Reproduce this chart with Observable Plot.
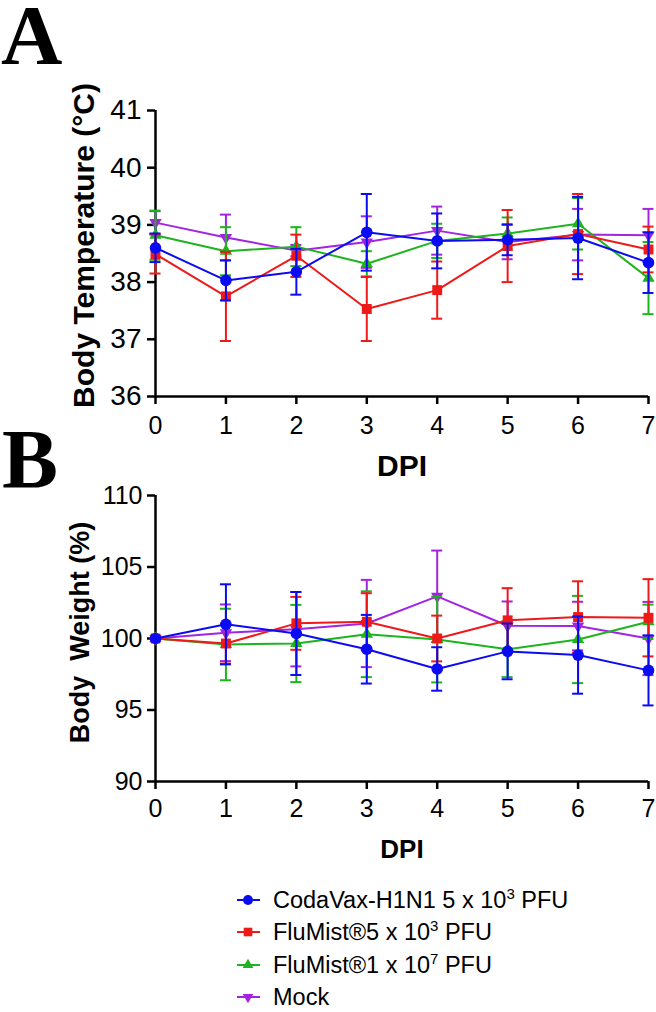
<!DOCTYPE html>
<html><head><meta charset="utf-8">
<script src="https://cdn.jsdelivr.net/npm/d3@7"></script>
<script src="https://cdn.jsdelivr.net/npm/@observablehq/plot@0.6"></script>
<style>
body{margin:0;background:#fff;}
#wrap{position:relative;width:656px;height:1012px;overflow:hidden;font-family:"Liberation Sans",Arial,sans-serif;background:#fff;}
#pa,#pb{position:absolute;left:0;}
#pa{top:0}
#pb{top:420px}
.letter{position:absolute;left:1px;font-family:"Liberation Serif","Times New Roman",serif;font-weight:bold;height:66px;line-height:66px;overflow:visible;}
#la{top:2px;font-size:85px;}
#lb{top:427px;font-size:84px;left:2px;}
#legend{position:absolute;left:0;top:884px;width:656px;}
.row{position:relative;height:32.3px;line-height:32.3px;font-size:23.5px;color:#000;white-space:nowrap;}
.row svg{position:absolute;left:230px;top:0;}
.row span{position:absolute;left:273px;top:0;}
sup{font-size:15px;vertical-align:9px;line-height:0;}
</style></head>
<body><div id="wrap"><div id="pa"></div><div id="pb"></div><div class="letter" id="la">A</div><div class="letter" id="lb">B</div><div id="legend"></div></div>
<script>
// ---------- data ----------
const days = [0, 1, 2, 3, 4, 5, 6, 7];
const seriesKeys = ["coda", "flu5", "flu7", "mock"];
const seriesLabels = [
  ["CodaVax-H1N1 5 x 10", "3", " PFU"],
  ["FluMist®5 x 10", "3", " PFU"],
  ["FluMist®1 x 10", "7", " PFU"],
  ["Mock", "", ""]
];
const seriesColors = ["#0b0bf2", "#ee1a1a", "#1db41d", "#a324e0"];
const seriesSymbols = ["circle", "square", "triangle", "triangle"];
const seriesRotate = [0, 0, 0, 180];
const seriesR = [5.8, 5.6, 4.6, 4.6];

// Panel A: body temperature (°C), mean and SD
const tempCoda   = [38.60, 38.03, 38.18, 38.87, 38.72, 38.74, 38.77, 38.34];
const tempCodaSD = [0.25, 0.35, 0.40, 0.67, 0.48, 0.27, 0.72, 0.53];
const tempFlu5   = [38.49, 37.75, 38.46, 37.53, 37.86, 38.63, 38.84, 38.57];
const tempFlu5SD = [0.34, 0.78, 0.37, 0.56, 0.50, 0.63, 0.70, 0.40];
const tempFlu7   = [38.82, 38.54, 38.62, 38.32, 38.72, 38.85, 39.02, 38.07];
const tempFlu7SD = [0.43, 0.42, 0.34, 0.22, 0.30, 0.28, 0.45, 0.63];
const tempMock   = [39.04, 38.78, 38.55, 38.70, 38.90, 38.70, 38.83, 38.82];
const tempMockSD = [0.20, 0.40, 0.10, 0.45, 0.42, 0.30, 0.45, 0.46];
const tempTicks  = [36, 37, 38, 39, 40, 41];

// Panel B: body weight (%), mean and SD
const wCoda   = [100, 100.99, 100.35, 99.25, 97.87, 99.10, 98.84, 97.77];
const wCodaSD = [0, 2.80, 2.90, 2.40, 1.52, 1.95, 2.70, 2.45];
const wFlu5   = [100, 99.65, 101.06, 101.17, 100.00, 101.27, 101.50, 101.45];
const wFlu5SD = [0, 1.40, 1.85, 2.00, 1.60, 2.25, 2.50, 2.70];
const wFlu7   = [100, 99.58, 99.65, 100.30, 99.93, 99.25, 99.93, 101.17];
const wFlu7SD = [0, 2.50, 2.70, 3.00, 3.00, 1.95, 3.05, 1.20];
const wMock   = [100, 100.40, 100.65, 101.05, 102.95, 100.89, 100.87, 100.00];
const wMockSD = [0, 1.98, 2.60, 3.05, 3.20, 1.70, 1.70, 2.56];
const weightTicks = [90, 95, 100, 105, 110];

// ---------- build ----------
function tidy(means, sds) {
  const out = [];
  means.forEach((m, s) => {
    days.forEach((d, i) => {
      out.push({s, day: d, mean: m[i], lo: m[i] - sds[s][i], hi: m[i] + sds[s][i]});
    });
  });
  return out;
}
const tempData = tidy([tempCoda, tempFlu5, tempFlu7, tempMock], [tempCodaSD, tempFlu5SD, tempFlu7SD, tempMockSD]);
const weightData = tidy([wCoda, wFlu5, wFlu7, wMock], [wCodaSD, wFlu5SD, wFlu7SD, wMockSD]);

const drawOrder = [3, 2, 1, 0];
const FONT = "Liberation Sans, Arial, sans-serif";

function panel(o) {
  const marks = [];
  for (const s of drawOrder) {
    const d = o.data.filter(r => r.s === s);
    const c = seriesColors[s];
    marks.push(Plot.ruleX(d, {x: "day", y1: "lo", y2: "hi", stroke: c, strokeWidth: 2}));
    marks.push(Plot.ruleY(d, {y: "hi", x1: "day", x2: "day", insetLeft: -5.5, insetRight: -5.5, stroke: c, strokeWidth: 2}));
    marks.push(Plot.ruleY(d, {y: "lo", x1: "day", x2: "day", insetLeft: -5.5, insetRight: -5.5, stroke: c, strokeWidth: 2}));
    marks.push(Plot.line(d, {x: "day", y: "mean", stroke: c, strokeWidth: 2}));
    marks.push(Plot.dot(d, {x: "day", y: "mean", symbol: seriesSymbols[s], r: seriesR[s], fill: c, stroke: "none", rotate: seriesRotate[s]}));
  }
  return Plot.plot({
    width: 656,
    height: o.height,
    marginTop: o.marginTop,
    marginBottom: o.marginBottom,
    marginLeft: 155,
    marginRight: 8,
    style: {background: "transparent", fontFamily: FONT, color: "black", overflow: "visible"},
    x: {domain: [0, 7]},
    y: {domain: o.domain},
    marks: [
      Plot.axisY({ticks: o.ticks, tickSize: 8, tickPadding: o.yPad, fontSize: o.yFont, strokeWidth: 2.5, label: null, tickFormat: d => d}),
      Plot.axisX({ticks: days, tickSize: 8, tickPadding: o.xPad, fontSize: o.xFont, strokeWidth: 2.5, label: null, tickFormat: d => d}),
      Plot.ruleX([0], {y1: o.domain[0], y2: o.domain[1], strokeWidth: 2.5}),
      Plot.ruleY([o.domain[0]], {x1: 0, x2: 7, strokeWidth: 2.5}),
      ...marks,
      Plot.text([o.yLabel], {text: d => d, frameAnchor: "left", rotate: -90, dx: o.yLabelDx, dy: o.yLabelDy, fontSize: o.yLabelSize, fontWeight: "bold", textAnchor: "middle", lineAnchor: "middle"}),
      Plot.text(["DPI"], {text: d => d, frameAnchor: "bottom", lineAnchor: "bottom", dy: o.dpiDy, fontSize: o.dpiSize, fontWeight: "bold"})
    ]
  });
}

document.getElementById("pa").append(panel({
  data: tempData, height: 480, marginTop: 110, marginBottom: 84, domain: [36, 41], ticks: tempTicks,
  yPad: 6, yFont: 28, xPad: 12, xFont: 25,
  yLabel: "Body Temperature (°C)", yLabelSize: 30, yLabelDx: -71.6, yLabelDy: -8,
  dpiDy: 79, dpiSize: 30
}));

document.getElementById("pb").append(panel({
  data: weightData, height: 450, marginTop: 75, marginBottom: 89, domain: [90, 110], ticks: weightTicks,
  yPad: 5, yFont: 25, xPad: 10, xFont: 25,
  yLabel: "Body  Weight (%)", yLabelSize: 27, yLabelDx: -75.3, yLabelDy: -6,
  dpiDy: 76, dpiSize: 26
}));

// ---------- legend ----------
const legend = document.getElementById("legend");
seriesKeys.forEach((k, s) => {
  const row = document.createElement("div");
  row.className = "row";
  const c = seriesColors[s];
  const sym = d3.symbol().type({circle: d3.symbolCircle, square: d3.symbolSquare, triangle: d3.symbolTriangle}[seriesSymbols[s]]).size(Math.PI * seriesR[s] * seriesR[s] * 0.75)();
  row.innerHTML = `<svg width="40" height="32.3"><line x1="7" x2="30" y1="16" y2="16" stroke="${c}" stroke-width="2"/><path d="${sym}" fill="${c}" transform="translate(18,16) rotate(${seriesRotate[s]})"/></svg>`;
  const span = document.createElement("span");
  const [a, sup, b] = seriesLabels[s];
  span.append(a);
  if (sup) { const e = document.createElement("sup"); e.textContent = sup; span.append(e); }
  span.append(b);
  row.append(span);
  legend.append(row);
});
</script>
</body></html>
